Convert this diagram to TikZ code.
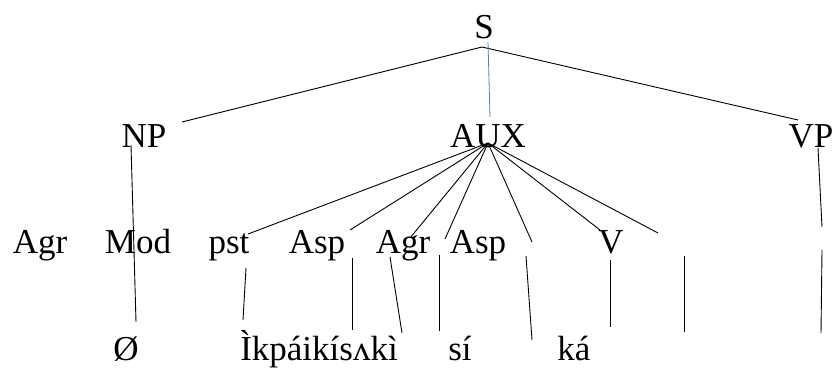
\documentclass[tikz,border=0pt]{standalone}
\usepackage{fontspec}
\setmainfont{Liberation Serif}
\begin{document}
\begin{tikzpicture}[x=1pt,y=-1pt,
  lbl/.style={anchor=base,inner sep=0pt,font=\fontsize{35}{40}\selectfont},
  branch/.style={line width=0.9pt,black},
  headline/.style={line width=0.8pt,color={rgb,255:red,70;green,130;blue,205}}]
\useasboundingbox (0,0) rectangle (834,367);

% category labels
\node[lbl] (S)    at (484,38)  {S};
\node[lbl] (NP)   at (144,147) {NP};
\node[lbl] (AUX)  at (488,147) {AUX};
\node[lbl] (VP)   at (811,147) {VP};

\node[lbl] (agrA) at (40,253)  {Agr};
\node[lbl] (mod)  at (138,253) {Mod};
\node[lbl] (pst)  at (229,253) {pst};
\node[lbl] (aspA) at (317,253) {Asp};
\node[lbl] (agrB) at (403,253) {Agr};
\node[lbl] (aspB) at (478,253) {Asp};
\node[lbl] (V)    at (611,253) {V};

% morphemes
\node[lbl] (null) at (126,360) {Ø};
\node[lbl] (stem) at (319,360) {Ìkpáikísʌkì};
\node[lbl] (si)   at (460,360) {sí};
\node[lbl] (ka)   at (574,360) {ká};

% attachment points of the branches
\coordinate (Sj)   at (482,47);
\coordinate (Sv)   at (488,42);
\coordinate (AUXt) at (490,117);
\coordinate (NPr)  at (182,122);
\coordinate (VPl)  at (798,120);
\coordinate (AUXj) at (488,143);

\coordinate (pstT)  at (248,234);
\coordinate (aspAT) at (350,230);
\coordinate (agrBT) at (410,238);
\coordinate (aspBT) at (445,239);
\coordinate (e1T)   at (532,242);
\coordinate (VT)    at (600,230);
\coordinate (e2T)   at (658,233);

\coordinate (NPb)   at (131,145);
\coordinate (nullT) at (136,322);
\coordinate (pstB)  at (246,268);
\coordinate (stemT) at (243,320);
\coordinate (aspAB) at (352,258);
\coordinate (aspAL) at (352,330);
\coordinate (agrBB) at (390,257);
\coordinate (agrBL) at (402,333);
\coordinate (siU)   at (439,255);
\coordinate (siL)   at (439,331);
\coordinate (e1U)   at (526,256);
\coordinate (kaL)   at (532,340);
\coordinate (VB)    at (610,260);
\coordinate (VL)    at (610,327);
\coordinate (e2U)   at (684,256);
\coordinate (e2L)   at (684,332);
\coordinate (VPb)   at (818,148);
\coordinate (VPm)   at (822,227);
\coordinate (e3U)   at (822,250);
\coordinate (e3L)   at (821,333);

% S branches
\draw[branch] (NPr) -- (Sj) -- (VPl);
\draw[headline] (Sv) -- (AUXt);

% AUX branches
\foreach \t in {pstT,aspAT,agrBT,aspBT,e1T,VT,e2T}
  \draw[branch] (AUXj) -- (\t);

% lower branches
\draw[branch] (NPb) -- (nullT);
\draw[branch] (pstB) -- (stemT);
\draw[branch] (aspAB) -- (aspAL);
\draw[branch] (agrBB) -- (agrBL);
\draw[branch] (siU) -- (siL);
\draw[branch] (e1U) -- (kaL);
\draw[branch] (VB) -- (VL);
\draw[branch] (e2U) -- (e2L);
\draw[branch] (VPb) -- (VPm);
\draw[branch] (e3U) -- (e3L);
\end{tikzpicture}
\end{document}
